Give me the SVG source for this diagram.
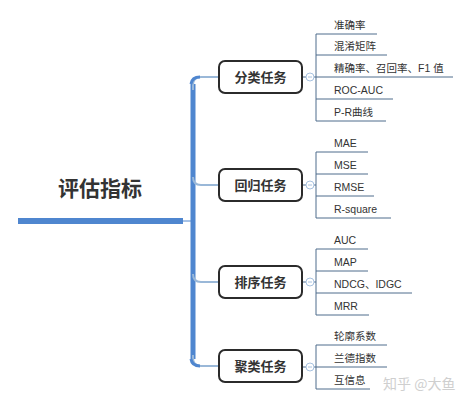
<svg xmlns="http://www.w3.org/2000/svg" width="470" height="403" viewBox="0 0 470 403">
<style>
.t{font-family:"Liberation Sans","Noto Sans CJK SC",sans-serif;fill:#333}
.leaf{font-size:10.5px}
.box{fill:#fff;stroke:#2b2b2b;stroke-width:2}
.bt{font-size:13px;font-weight:bold;text-anchor:middle}
.ll{stroke:#4f6d8c;stroke-width:1;fill:none}
.br{stroke:#9ab8d8;stroke-width:2;fill:none}
.col{fill:#fff;stroke:#a8c2e0;stroke-width:1}
</style>
<rect width="470" height="403" fill="#fff"/>
<g id="connectors">
<rect x="18" y="218" width="165" height="6" fill="#4f86cf"/>
<line x1="183" y1="221" x2="193" y2="221" stroke="#4f86cf" stroke-width="1"/>
<path d="M193,84 V359" stroke="#4f86cf" stroke-width="5" fill="none"/>
<path class="br" d="M193,90 V85 Q193,77 201,77 H219"/>
<path class="br" d="M193,177 Q193,185 201,185 H219"/>
<path class="br" d="M193,274 Q193,282 201,282 H219"/>
<path class="br" d="M193,355 V358 Q193,366 201,366 H219"/>
<path d="M191,84 Q192,77 200,77" stroke="#4f86cf" stroke-width="3" fill="none"/>
<path d="M191,359 Q192,366 200,366" stroke="#4f86cf" stroke-width="3" fill="none"/>
<g class="ll">
<line x1="302" y1="77" x2="306" y2="77"/>
<line x1="316" y1="34" x2="316" y2="121"/>
<line x1="316" y1="34" x2="377" y2="34"/>
<line x1="316" y1="55" x2="387" y2="55"/>
<line x1="314" y1="77" x2="453" y2="77"/>
<line x1="316" y1="99" x2="393" y2="99"/>
<line x1="316" y1="121" x2="386" y2="121"/>
<line x1="302" y1="185" x2="306" y2="185"/>
<line x1="316" y1="152" x2="316" y2="218"/>
<line x1="316" y1="152" x2="368" y2="152"/>
<line x1="316" y1="174" x2="368" y2="174"/>
<line x1="316" y1="196" x2="374" y2="196"/>
<line x1="314" y1="185" x2="316" y2="185"/>
<line x1="316" y1="218" x2="391" y2="218"/>
<line x1="302" y1="282" x2="306" y2="282"/>
<line x1="316" y1="249" x2="316" y2="315"/>
<line x1="316" y1="249" x2="368" y2="249"/>
<line x1="316" y1="271" x2="368" y2="271"/>
<line x1="316" y1="293" x2="412" y2="293"/>
<line x1="314" y1="282" x2="316" y2="282"/>
<line x1="316" y1="315" x2="369" y2="315"/>
<line x1="302" y1="367" x2="306" y2="367"/>
<line x1="316" y1="345" x2="316" y2="389"/>
<line x1="316" y1="345" x2="387" y2="345"/>
<line x1="314" y1="367" x2="387" y2="367"/>
<line x1="316" y1="389" x2="370" y2="389"/>
</g>
<g>
<circle class="col" cx="310" cy="77" r="4"/><line x1="308" y1="77" x2="312" y2="77" stroke="#a8c2e0"/>
<circle class="col" cx="310" cy="185" r="4"/><line x1="308" y1="185" x2="312" y2="185" stroke="#a8c2e0"/>
<circle class="col" cx="310" cy="282" r="4"/><line x1="308" y1="282" x2="312" y2="282" stroke="#a8c2e0"/>
<circle class="col" cx="310" cy="367" r="4"/><line x1="308" y1="367" x2="312" y2="367" stroke="#a8c2e0"/>
</g>
</g>
<g id="root"><text class="t" x="100" y="196" font-size="21" font-weight="bold" text-anchor="middle">评估指标</text></g>
<g id="n1"><rect class="box" x="219" y="61" width="83" height="32" rx="6"/><text class="t bt" x="260.5" y="82">分类任务</text></g>
<g id="n2"><rect class="box" x="219" y="169" width="83" height="32" rx="6"/><text class="t bt" x="260.5" y="190">回归任务</text></g>
<g id="n3"><rect class="box" x="219" y="266" width="83" height="32" rx="6"/><text class="t bt" x="260.5" y="287">排序任务</text></g>
<g id="n4"><rect class="box" x="219" y="350" width="83" height="32" rx="6"/><text class="t bt" x="260.5" y="371">聚类任务</text></g>
<g id="leaves" class="t leaf">
<text x="334" y="29">准确率</text>
<text x="334" y="50">混淆矩阵</text>
<text x="334" y="72">精确率、召回率、F1 值</text>
<text x="334" y="94">ROC-AUC</text>
<text x="334" y="116">P-R曲线</text>
<text x="334" y="147">MAE</text>
<text x="334" y="169">MSE</text>
<text x="334" y="191">RMSE</text>
<text x="334" y="213">R-square</text>
<text x="334" y="244">AUC</text>
<text x="334" y="266">MAP</text>
<text x="334" y="288">NDCG、IDGC</text>
<text x="334" y="310">MRR</text>
<text x="334" y="340">轮廓系数</text>
<text x="334" y="362">兰德指数</text>
<text x="334" y="384">互信息</text>
</g>
<text x="383" y="389" font-family="Noto Sans CJK SC,sans-serif" font-size="14" fill="#cfcfcf">知乎 @大鱼</text>
</svg>
